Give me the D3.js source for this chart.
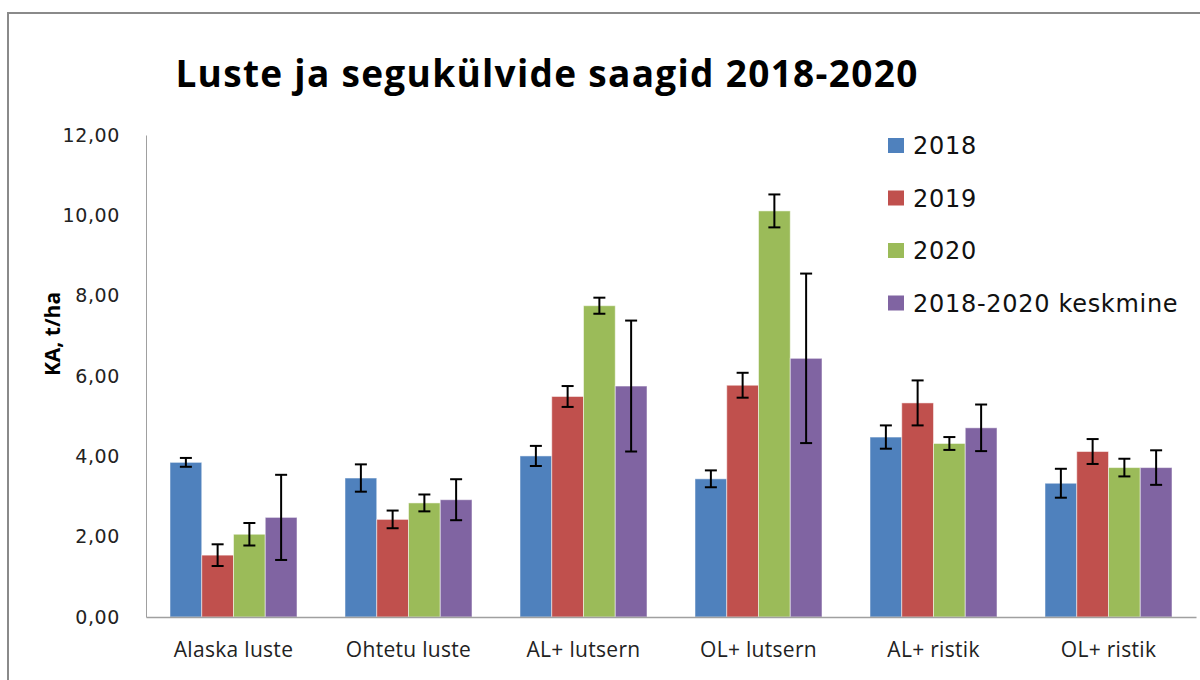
<!DOCTYPE html>
<html>
<head>
<meta charset="utf-8">
<script src="https://cdn.jsdelivr.net/npm/d3@7"></script>
<style>
  body { margin: 0; background: #fff; }
  svg { display: block; }
</style>
</head>
<body>
<svg width="1200" height="680"></svg>
<script>
// data
var categories = ["Alaska luste", "Ohtetu luste", "AL+ lutsern", "OL+ lutsern", "AL+ ristik", "OL+ ristik"];
var seriesNames = ["2018", "2019", "2020", "2018-2020 keskmine"];
var colors = ["#4F81BD", "#C0504D", "#9BBB59", "#8064A2"];

var v2018 = [3.85, 3.46, 4.01, 3.44, 4.48, 3.33];
var v2019 = [1.54, 2.43, 5.49, 5.77, 5.33, 4.12];
var v2020 = [2.06, 2.84, 7.75, 10.11, 4.32, 3.72];
var vMean = [2.48, 2.92, 5.75, 6.44, 4.71, 3.72];

var e2018 = [0.11, 0.34, 0.25, 0.21, 0.29, 0.36];
var e2019 = [0.27, 0.22, 0.26, 0.31, 0.56, 0.31];
var e2020 = [0.28, 0.21, 0.20, 0.41, 0.16, 0.22];
var eMean = [1.06, 0.51, 1.63, 2.11, 0.58, 0.43];

var yTicks = [0, 2, 4, 6, 8, 10, 12];

var values = [v2018, v2019, v2020, vMean];
var errors = [e2018, e2019, e2020, eMean];

var svg = d3.select("svg");

// outer frame
svg.append("rect")
    .attr("x", 8).attr("y", 13)
    .attr("width", 1200).attr("height", 700)
    .attr("fill", "none")
    .attr("stroke", "#8a8a8a")
    .attr("stroke-width", 2);

var plotLeft = 146, plotRight = 1196, plotTop = 135, plotBottom = 617;

var x0 = d3.scaleBand().domain(categories).range([plotLeft, plotRight]);
var x1 = d3.scaleBand().domain(seriesNames).range([0, x0.bandwidth()])
    .paddingInner(0).paddingOuter(0.756);
var y = d3.scaleLinear().domain([0, 12]).range([plotBottom, plotTop]);

// flat list of bars
var bars = [];
categories.forEach(function(c, i) {
    seriesNames.forEach(function(s, j) {
        bars.push({ cat: c, s: s, idx: j, v: values[j][i], e: errors[j][i] });
    });
});

function cx(d) {
    return x0(d.cat) + x1(d.s) + x1.bandwidth() / 2;
}

var g = svg.append("g");

g.selectAll("rect.bar")
    .data(bars)
    .enter()
    .append("rect")
    .attr("class", "bar")
    .attr("x", function(d) { return x0(d.cat) + x1(d.s); })
    .attr("y", function(d) { return y(d.v); })
    .attr("width", x1.bandwidth())
    .attr("height", function(d) { return y(0) - y(d.v); })
    .attr("fill", function(d) { return colors[d.idx]; })
    .attr("stroke", "#ffffff")
    .attr("stroke-opacity", 0.5)
    .attr("stroke-width", 1);

// error bars
var eb = g.selectAll("g.err")
    .data(bars)
    .enter()
    .append("g")
    .attr("class", "err")
    .attr("stroke", "#000")
    .attr("stroke-width", 2);

eb.append("line")
    .attr("x1", cx)
    .attr("x2", cx)
    .attr("y1", function(d) { return y(d.v + d.e); })
    .attr("y2", function(d) { return y(d.v - d.e); });

[1, -1].forEach(function(sign) {
    eb.append("line")
        .attr("x1", function(d) { return cx(d) - 6; })
        .attr("x2", function(d) { return cx(d) + 6; })
        .attr("y1", function(d) { return y(d.v + sign * d.e); })
        .attr("y2", function(d) { return y(d.v + sign * d.e); });
});

// y axis
var yAxis = d3.axisLeft(y)
    .tickValues(yTicks)
    .tickSize(0)
    .tickPadding(26)
    .tickFormat(function(d) { return d3.format(".2f")(d).replace(".", ","); });

var ya = svg.append("g")
    .attr("transform", "translate(" + plotLeft + ",0)")
    .call(yAxis);
ya.select(".domain").attr("stroke", "#a0a0a0").attr("stroke-width", 1);
ya.selectAll("text")
    .attr("font-family", "DejaVu Sans")
    .attr("font-size", 19)
    .attr("letter-spacing", 0.6)
    .attr("fill", "#222");

// x axis
var xa = svg.append("g")
    .attr("transform", "translate(0," + plotBottom + ")")
    .call(d3.axisBottom(x0).tickSize(0).tickPadding(25));
xa.select(".domain").attr("stroke", "#a0a0a0").attr("stroke-width", 1.5);
xa.selectAll("text")
    .attr("font-family", "Open Sans")
    .attr("font-size", 21)
    .attr("letter-spacing", 0.3)
    .attr("fill", "#222");

// title
svg.append("text")
    .attr("x", 547)
    .attr("y", 87)
    .attr("text-anchor", "middle")
    .attr("font-family", "Open Sans")
    .attr("font-weight", "bold")
    .attr("font-size", 37)
    .attr("letter-spacing", 1.3)
    .attr("fill", "#000")
    .text("Luste ja segukülvide saagid 2018-2020");

// y axis title
svg.append("text")
    .attr("transform", "translate(60,334) rotate(-90)")
    .attr("text-anchor", "middle")
    .attr("font-family", "Open Sans")
    .attr("font-weight", "bold")
    .attr("font-size", 21)
    .attr("fill", "#000")
    .text("KA, t/ha");

// legend
var legend = svg.append("g")
    .selectAll("g")
    .data(seriesNames)
    .enter()
    .append("g")
    .attr("transform", function(d, i) { return "translate(888," + (146 + i * 52.5) + ")"; });

legend.append("rect")
    .attr("x", 0).attr("y", -8)
    .attr("width", 16).attr("height", 15)
    .attr("fill", function(d, i) { return colors[i]; });

legend.append("text")
    .attr("x", 25)
    .attr("y", 0)
    .attr("dy", "0.35em")
    .attr("font-family", "DejaVu Sans")
    .attr("font-size", 24)
    .attr("letter-spacing", 0.7)
    .attr("fill", "#111")
    .text(function(d) { return d; });
</script>
</body>
</html>
